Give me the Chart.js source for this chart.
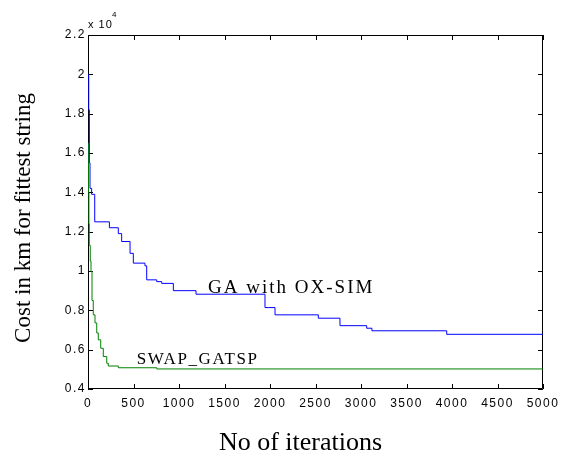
<!DOCTYPE html>
<html>
<head>
<meta charset="utf-8">
<script src="https://cdn.jsdelivr.net/npm/chart.js@4/dist/chart.umd.min.js"></script>
<style>
  html, body { margin: 0; padding: 0; background: #fff; }
  #costChart { display: block; }
</style>
</head>
<body>
<canvas id="costChart" width="564" height="453"></canvas>
<script>
// data (cost in km, iterations)
const gaIter = [0, 8, 15, 22, 40, 74, 235, 333, 370, 462, 498, 626, 645, 755, 810, 938, 1187, 1945, 2055, 2531, 2769, 3062, 3120, 3942, 5000];
const gaCost = [20000, 18200, 15500, 14200, 13900, 12500, 12200, 11900, 11500, 10900, 10400, 10260, 9550, 9460, 9370, 9000, 8820, 8140, 7770, 7600, 7220, 7090, 6960, 6780, 6780];

const swapIter = [0, 5, 10, 14, 25, 33, 44, 58, 77, 96, 113, 140, 168, 206, 223, 333, 756, 5000];
const swapCost = [16500, 14000, 12400, 11300, 10500, 9970, 8500, 7770, 7360, 6850, 6500, 6070, 5650, 5310, 5170, 5080, 5020, 5020];

const xTicks = [0, 500, 1000, 1500, 2000, 2500, 3000, 3500, 4000, 4500, 5000];
const yTicks = [4000, 6000, 8000, 10000, 12000, 14000, 16000, 18000, 20000, 22000];

// text labels placed in data coordinates
const seriesLabels = ['GA with OX-SIM', 'SWAP_GATSP'];
const labelIter = [1320, 536];
const labelCost = [8900, 5270];

const toPoints = (xs, ys) => xs.map((x, i) => ({ x: x, y: ys[i] }));

const sansFont = '"Liberation Sans", Arial, Helvetica, sans-serif';
const serifFont = '"Liberation Serif", "Times New Roman", serif';
const labelFonts = ['19px ' + serifFont, '17px ' + serifFont];
const labelSpacing = ['2px', '1.6px'];

// box + inward ticks (under the lines) and texts, matlab style
const matlabFrame = {
    id: 'matlabFrame',
    beforeDraw(chart) {
        chart.ctx.letterSpacing = '1.5px';
    },
    beforeDatasetsDraw(chart) {
        const ctx = chart.ctx;
        const { left, right, top, bottom } = chart.chartArea;
        const xs = chart.scales.x;
        const ys = chart.scales.y;
        const len = 5;

        ctx.save();
        ctx.strokeStyle = '#000';
        ctx.lineWidth = 1;
        ctx.beginPath();
        ctx.rect(left + 0.5, top + 0.5, right - left - 1, bottom - top - 1);
        xTicks.forEach(v => {
            const px = Math.round(xs.getPixelForValue(v)) + 0.5;
            ctx.moveTo(px, bottom); ctx.lineTo(px, bottom - len);
            ctx.moveTo(px, top); ctx.lineTo(px, top + len);
        });
        yTicks.forEach(v => {
            const py = Math.round(ys.getPixelForValue(v)) + 0.5;
            ctx.moveTo(left, py); ctx.lineTo(left + len, py);
            ctx.moveTo(right, py); ctx.lineTo(right - len, py);
        });
        ctx.stroke();
        ctx.restore();
    },
    afterDraw(chart) {
        const ctx = chart.ctx;
        const { left, right, top } = chart.chartArea;
        const xs = chart.scales.x;
        const ys = chart.scales.y;

        ctx.save();
        // exponent label
        ctx.fillStyle = '#000';
        ctx.textBaseline = 'alphabetic';
        ctx.textAlign = 'left';
        ctx.letterSpacing = '1px';
        ctx.font = '11px ' + sansFont;
        ctx.fillText('x 10', left, top - 7);
        ctx.font = '8px ' + sansFont;
        ctx.fillText('4', left + 24, top - 18);

        // series labels
        seriesLabels.forEach((t, i) => {
            ctx.font = labelFonts[i];
            ctx.letterSpacing = labelSpacing[i];
            ctx.fillText(t, xs.getPixelForValue(labelIter[i]), ys.getPixelForValue(labelCost[i]));
        });

        // axis titles
        ctx.letterSpacing = '0px';
        ctx.textAlign = 'center';
        ctx.font = '26px ' + serifFont;
        ctx.fillText('No of iterations', (left + right) / 2 - 15, 450);

        ctx.save();
        ctx.translate(30, 218);
        ctx.rotate(-Math.PI / 2);
        ctx.font = '23px ' + serifFont;
        ctx.fillText('Cost in km for fittest string', 0, 0);
        ctx.restore();

        ctx.restore();
    }
};

const ctx = document.getElementById('costChart').getContext('2d');

const costChart = new Chart(ctx, {
    type: 'line',
    data: {
        datasets: [{
            label: 'GA with OX-SIM',
            data: toPoints(gaIter, gaCost),
            borderColor: '#0000ff',
            borderWidth: 1,
            pointRadius: 0,
            stepped: true,
            fill: false
        }, {
            label: 'SWAP_GATSP',
            data: toPoints(swapIter, swapCost),
            borderColor: '#008000',
            borderWidth: 1,
            pointRadius: 0,
            stepped: true,
            fill: false
        }]
    },
    options: {
        responsive: false,
        animation: false,
        events: [],
        layout: { padding: { top: 35, right: 21, left: 0, bottom: 0 } },
        plugins: {
            legend: { display: false },
            tooltip: { enabled: false }
        },
        scales: {
            x: {
                type: 'linear',
                min: 0,
                max: 5000,
                grid: { display: false, drawTicks: false },
                border: { display: false },
                afterFit: s => { s.height = 64; },
                afterBuildTicks: s => { s.ticks = xTicks.map(v => ({ value: v })); },
                ticks: {
                    color: '#000',
                    padding: 7,
                    maxRotation: 0,
                    autoSkip: false,
                    font: { family: sansFont, size: 12 },
                    callback: v => String(v)
                }
            },
            y: {
                type: 'linear',
                min: 4000,
                max: 22000,
                grid: { display: false, drawTicks: false },
                border: { display: false },
                afterFit: s => { s.width = 88; },
                afterBuildTicks: s => { s.ticks = yTicks.map(v => ({ value: v })); },
                ticks: {
                    color: '#000',
                    padding: 2,
                    autoSkip: false,
                    font: { family: sansFont, size: 12 },
                    callback: v => String(v / 10000)
                }
            }
        }
    },
    plugins: [matlabFrame]
});
</script>
</body>
</html>
